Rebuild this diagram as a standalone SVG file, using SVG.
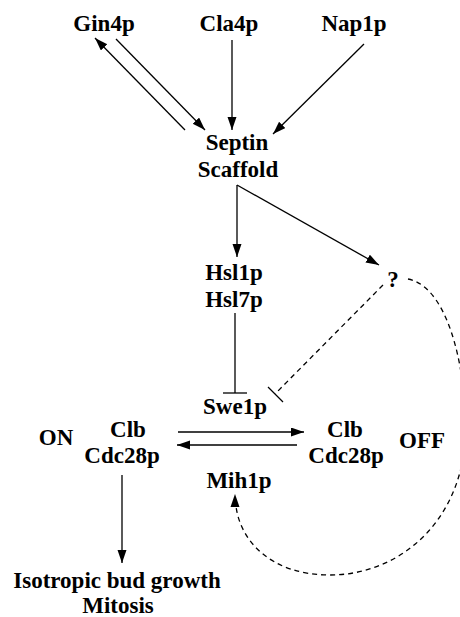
<svg xmlns="http://www.w3.org/2000/svg" width="460" height="617" viewBox="0 0 460 617">
<style>
text{font-family:'Liberation Serif','Times New Roman',Times,'DejaVu Serif',serif;font-weight:700;font-size:23px;fill:#000;text-anchor:middle}
.l{stroke:#000;stroke-width:1.3;fill:none}
.d{stroke:#000;stroke-width:1.3;fill:none;stroke-dasharray:5 4}
</style>
<defs>
<marker id="a" markerUnits="userSpaceOnUse" markerWidth="13" markerHeight="10" refX="13" refY="4.5" orient="auto">
<path d="M0,0 L13,4.5 L0,9 z" fill="#000"/>
</marker>
</defs>
<rect width="460" height="617" fill="#fff"/>
<g id="connectors">
<line class="l" x1="185" y1="130" x2="95" y2="38" marker-end="url(#a)"/>
<line class="l" x1="116" y1="39" x2="205" y2="130" marker-end="url(#a)"/>
<line class="l" x1="232" y1="40" x2="232" y2="130" marker-end="url(#a)"/>
<line class="l" x1="364" y1="44" x2="273" y2="134" marker-end="url(#a)"/>
<line class="l" x1="237" y1="185" x2="237" y2="257" marker-end="url(#a)"/>
<line class="l" x1="237" y1="185" x2="379" y2="265" marker-end="url(#a)"/>
<line class="l" x1="235" y1="313" x2="235" y2="393"/>
<line class="l" x1="223" y1="393" x2="247" y2="393"/>
<line class="d" x1="383" y1="285" x2="275" y2="394"/>
<line class="l" x1="268" y1="387" x2="283" y2="402"/>
<path class="d" d="M408,279 C440,285 462,340 466,420 C468,520 400,575 330,575 C270,575 240,540 236,506"/>
<path d="M235,494 L239.5,507 L230.5,507 z" fill="#000"/>
<line class="l" x1="178" y1="432" x2="304" y2="432" marker-end="url(#a)"/>
<line class="l" x1="297" y1="445" x2="177" y2="445" marker-end="url(#a)"/>
<line class="l" x1="122" y1="475" x2="122" y2="563" marker-end="url(#a)"/>
</g>
<g id="gin4p"><text x="104" y="31">Gin4p</text></g>
<g id="cla4p"><text x="229" y="31">Cla4p</text></g>
<g id="nap1p"><text x="354" y="31">Nap1p</text></g>
<g id="septin"><text x="237" y="150">Septin</text><text x="238" y="177">Scaffold</text></g>
<g id="hsl"><text x="234" y="280">Hsl1p</text><text x="234" y="307">Hsl7p</text></g>
<g id="unknown"><text x="393" y="287">?</text></g>
<g id="swe1p"><text x="235" y="414">Swe1p</text></g>
<g id="on"><text x="56" y="445">ON</text></g>
<g id="clb-on"><text x="128" y="437">Clb</text><text x="122" y="463">Cdc28p</text></g>
<g id="clb-off"><text x="345" y="437">Clb</text><text x="346" y="463">Cdc28p</text></g>
<g id="off"><text x="422" y="448">OFF</text></g>
<g id="mih1p"><text x="239" y="488">Mih1p</text></g>
<g id="output"><text x="117" y="588">Isotropic bud growth</text><text x="118" y="613">Mitosis</text></g>
</svg>
